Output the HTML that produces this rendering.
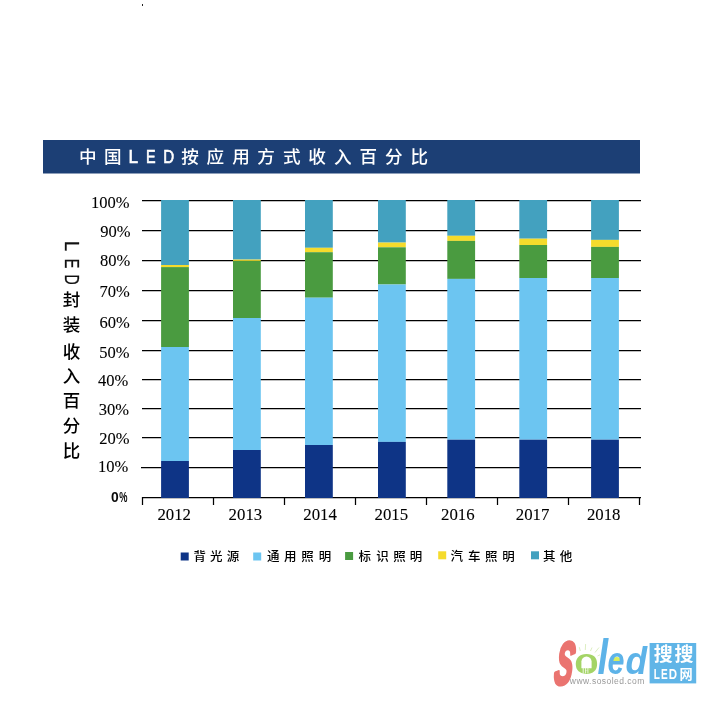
<!DOCTYPE html>
<html lang="zh-CN">
<head>
<meta charset="utf-8">
<title>中国LED按应用方式收入百分比</title>
<style>
html,body{margin:0;padding:0;background:#fff;}
body{width:709px;height:702px;overflow:hidden;position:relative;}
svg{display:block;position:absolute;left:0;top:0;}
.cjk{font-family:"Liberation Sans","Noto Sans CJK SC",sans-serif;}
.ser{font-family:"Liberation Serif",serif;}
.sans{font-family:"Liberation Sans",sans-serif;}
</style>
</head>
<body>
<svg width="709" height="702" viewBox="0 0 709 702">
<rect x="0" y="0" width="709" height="702" fill="#ffffff"/>
<rect x="142" y="4" width="1" height="2" fill="#222"/>

<rect x="43" y="140" width="597" height="33.5" fill="#1c3f75"/>
<g class="cjk" font-size="17.6" font-weight="500" fill="#ffffff" text-anchor="middle">
<text x="87.9" y="163.4">中</text>
<text x="112.7" y="163.4">国</text>
<text x="190.0" y="163.4">按</text>
<text x="215.4" y="163.4">应</text>
<text x="241.0" y="163.4">用</text>
<text x="266.0" y="163.4">方</text>
<text x="291.7" y="163.4">式</text>
<text x="317.1" y="163.4">收</text>
<text x="342.8" y="163.4">入</text>
<text x="368.4" y="163.4">百</text>
<text x="393.8" y="163.4">分</text>
<text x="419.3" y="163.4">比</text>
</g>
<g class="sans" font-size="18" fill="#ffffff" text-anchor="middle">
<text transform="translate(133.4 163.3) scale(0.96 1)" x="0" y="0" stroke="#fff" stroke-width="0.6">L</text>
<text transform="translate(150.9 163.3) scale(0.8 1)" x="0" y="0" stroke="#fff" stroke-width="0.6">E</text>
<text transform="translate(168.6 163.3) scale(0.84 1)" x="0" y="0" stroke="#fff" stroke-width="0.6">D</text>
</g>
<g stroke="#000" stroke-width="1.25" fill="none">
<line x1="142" y1="200.5" x2="641" y2="200.5"/>
<line x1="142" y1="230.5" x2="641" y2="230.5"/>
<line x1="142" y1="260.5" x2="641" y2="260.5"/>
<line x1="142" y1="290.5" x2="641" y2="290.5"/>
<line x1="142" y1="320.5" x2="641" y2="320.5"/>
<line x1="142" y1="350.5" x2="641" y2="350.5"/>
<line x1="142" y1="379.5" x2="641" y2="379.5"/>
<line x1="142" y1="408.5" x2="641" y2="408.5"/>
<line x1="142" y1="437.5" x2="641" y2="437.5"/>
<line x1="141" y1="467.5" x2="641" y2="467.5"/>
<line x1="142" y1="497.5" x2="641" y2="497.5"/>
<line x1="142.5" y1="497" x2="142.5" y2="505"/>
<line x1="213.5" y1="497" x2="213.5" y2="505"/>
<line x1="284.5" y1="497" x2="284.5" y2="505"/>
<line x1="355.5" y1="497" x2="355.5" y2="505"/>
<line x1="426.5" y1="497" x2="426.5" y2="505"/>
<line x1="497.5" y1="497" x2="497.5" y2="505"/>
<line x1="568.5" y1="497" x2="568.5" y2="505"/>
<line x1="639.5" y1="497" x2="639.5" y2="505"/>
</g>
<rect x="161.1" y="200" width="27.8" height="65.0" fill="#43a1bf"/>
<rect x="161.1" y="265.0" width="27.8" height="2.1" fill="#f5db2c"/>
<rect x="161.1" y="267.1" width="27.8" height="79.9" fill="#4a9b40"/>
<rect x="161.1" y="347.0" width="27.8" height="114.0" fill="#6cc5f1"/>
<rect x="161.1" y="461.0" width="27.8" height="37.0" fill="#0e3486"/>
<rect x="233.0" y="200" width="27.8" height="59.6" fill="#43a1bf"/>
<rect x="233.0" y="259.6" width="27.8" height="1.3" fill="#f5db2c"/>
<rect x="233.0" y="260.9" width="27.8" height="57.1" fill="#4a9b40"/>
<rect x="233.0" y="318.0" width="27.8" height="132.0" fill="#6cc5f1"/>
<rect x="233.0" y="450.0" width="27.8" height="48.0" fill="#0e3486"/>
<rect x="305.0" y="200" width="27.8" height="47.8" fill="#43a1bf"/>
<rect x="305.0" y="247.8" width="27.8" height="4.4" fill="#f5db2c"/>
<rect x="305.0" y="252.2" width="27.8" height="45.5" fill="#4a9b40"/>
<rect x="305.0" y="297.7" width="27.8" height="147.3" fill="#6cc5f1"/>
<rect x="305.0" y="445.0" width="27.8" height="53.0" fill="#0e3486"/>
<rect x="378.0" y="200" width="27.8" height="42.6" fill="#43a1bf"/>
<rect x="378.0" y="242.6" width="27.8" height="4.7" fill="#f5db2c"/>
<rect x="378.0" y="247.3" width="27.8" height="37.2" fill="#4a9b40"/>
<rect x="378.0" y="284.5" width="27.8" height="157.4" fill="#6cc5f1"/>
<rect x="378.0" y="441.9" width="27.8" height="56.1" fill="#0e3486"/>
<rect x="447.3" y="200" width="27.8" height="35.8" fill="#43a1bf"/>
<rect x="447.3" y="235.8" width="27.8" height="5.1" fill="#f5db2c"/>
<rect x="447.3" y="240.9" width="27.8" height="38.0" fill="#4a9b40"/>
<rect x="447.3" y="278.9" width="27.8" height="160.8" fill="#6cc5f1"/>
<rect x="447.3" y="439.7" width="27.8" height="58.3" fill="#0e3486"/>
<rect x="519.3" y="200" width="27.8" height="38.7" fill="#43a1bf"/>
<rect x="519.3" y="238.7" width="27.8" height="6.3" fill="#f5db2c"/>
<rect x="519.3" y="245.0" width="27.8" height="33.0" fill="#4a9b40"/>
<rect x="519.3" y="278.0" width="27.8" height="161.7" fill="#6cc5f1"/>
<rect x="519.3" y="439.7" width="27.8" height="58.3" fill="#0e3486"/>
<rect x="591.1" y="200" width="27.8" height="39.9" fill="#43a1bf"/>
<rect x="591.1" y="239.9" width="27.8" height="7.0" fill="#f5db2c"/>
<rect x="591.1" y="246.9" width="27.8" height="31.1" fill="#4a9b40"/>
<rect x="591.1" y="278.0" width="27.8" height="161.7" fill="#6cc5f1"/>
<rect x="591.1" y="439.7" width="27.8" height="58.3" fill="#0e3486"/>
<g class="ser" font-size="16.5" fill="#000" stroke="#000" stroke-width="0.1" text-anchor="end">
<text x="129.6" y="208.0">100%</text>
<text x="130.5" y="236.8">90%</text>
<text x="130.2" y="266.3">80%</text>
<text x="129.8" y="297.0">70%</text>
<text x="129.8" y="328.3">60%</text>
<text x="129.5" y="357.8">50%</text>
<text x="128.3" y="386.4">40%</text>
<text x="128.9" y="414.8">30%</text>
<text x="129.5" y="444.0">20%</text>
<text x="128.3" y="471.6">10%</text>
</g>
<text class="sans" font-size="15.4" font-weight="bold" fill="#0a0a0a" transform="translate(111.0 502.4) scale(0.9 1)" x="0" y="0">0</text>
<text class="sans" font-size="15.4" font-weight="bold" fill="#0a0a0a" transform="translate(119.2 502.4) scale(0.6 1)" x="0" y="0">%</text>
<g class="ser" font-size="16.8" fill="#000" stroke="#000" stroke-width="0.1" text-anchor="middle">
<text x="174.2" y="520.4">2012</text>
<text x="245.4" y="520.4">2013</text>
<text x="320.1" y="520.4">2014</text>
<text x="391.3" y="520.4">2015</text>
<text x="457.8" y="520.4">2016</text>
<text x="532.6" y="520.4">2017</text>
<text x="603.7" y="520.4">2018</text>
</g>
<g class="cjk" font-size="17.5" font-weight="500" fill="#000" text-anchor="middle">
<text x="71.5" y="306.1">封</text>
<text x="71.5" y="330.9">装</text>
<text x="71.5" y="357.5">收</text>
<text x="71.5" y="382.1">入</text>
<text x="71.5" y="407.2">百</text>
<text x="71.5" y="432.1">分</text>
<text x="71.5" y="457.2">比</text>
</g>
<g class="sans" font-size="19.6" fill="#111" text-anchor="middle">
<text transform="translate(64.8 246.1) rotate(90) scale(0.93 1)" x="0" y="0" stroke="#111" stroke-width="0.3">L</text>
<text transform="translate(64.8 263.5) rotate(90) scale(0.74 1)" x="0" y="0" stroke="#111" stroke-width="0.3">E</text>
<text transform="translate(64.8 279.7) rotate(90) scale(0.72 1)" x="0" y="0" stroke="#111" stroke-width="0.3">D</text>
</g>
<rect x="180.7" y="552.5" width="8" height="8" fill="#0e3486"/>
<rect x="253.2" y="552.5" width="8" height="8" fill="#6cc5f1"/>
<rect x="345.1" y="552.0" width="8" height="8" fill="#4a9b40"/>
<rect x="438.2" y="551.3" width="8" height="8" fill="#f5db2c"/>
<rect x="531.0" y="551.3" width="8" height="8" fill="#43a1bf"/>
<g class="cjk" font-size="12.5" font-weight="500" fill="#000" text-anchor="middle">
<text x="199.7" y="560.6">背</text>
<text x="216.3" y="560.6">光</text>
<text x="233.1" y="560.6">源</text>
<text x="273.2" y="560.6">通</text>
<text x="290.3" y="560.6">用</text>
<text x="307.6" y="560.6">照</text>
<text x="324.9" y="560.6">明</text>
<text x="364.8" y="560.6">标</text>
<text x="382.5" y="560.6">识</text>
<text x="399.5" y="560.6">照</text>
<text x="415.9" y="560.6">明</text>
<text x="456.8" y="560.6">汽</text>
<text x="474.3" y="560.6">车</text>
<text x="491.2" y="560.6">照</text>
<text x="508.4" y="560.6">明</text>
<text x="549.3" y="560.6">其</text>
<text x="566.1" y="560.6">他</text>
</g>
<g id="logo">
<rect x="649.6" y="643" width="46.6" height="40.4" fill="#60b5e7"/>
<g class="cjk" font-weight="bold" fill="#ffffff" text-anchor="middle">
<text x="663.2" y="661.0" font-size="19">搜</text>
<text x="684.1" y="661.0" font-size="19">搜</text>
<text x="686" y="678.8" font-size="13.2">网</text>
</g>
<g class="sans" font-weight="bold" font-size="14" fill="#ffffff">
<text transform="translate(653.7 679.4) scale(0.72 1)" x="0" y="0">L</text>
<text transform="translate(661.0 679.4) scale(0.72 1)" x="0" y="0">E</text>
<text transform="translate(668.8 679.4) scale(0.82 1)" x="0" y="0">D</text>
</g>
<g stroke="#cfe6a8" stroke-width="0.7" fill="none">
<line x1="575" y1="652.5" x2="573.5" y2="649.5"/>
<line x1="580.3" y1="651" x2="579.3" y2="647.2"/>
<line x1="585.3" y1="650" x2="585.6" y2="644"/>
<line x1="590.5" y1="651" x2="592" y2="647.5"/>
<line x1="595" y1="652.5" x2="599" y2="647.5"/>
<line x1="597.5" y1="656" x2="600" y2="654.8"/>
</g>
<text class="sans" font-weight="bold" font-style="italic" font-size="60" fill="#ea7470" stroke="#ea7470" stroke-width="3" stroke-linejoin="round" vector-effect="non-scaling-stroke" transform="translate(553.0 684.3) skewX(-8) scale(0.45 1)" x="0" y="0">S</text>
<text class="sans" font-weight="bold" font-size="37" fill="#a4d466" text-anchor="middle" transform="translate(586.4 673.6) scale(1.08 1)" x="0" y="0">o</text>
<ellipse cx="586.4" cy="663.8" rx="6.5" ry="6.5" fill="#a4d466"/>
<path d="M581.4 668.3 L581.4 661.6 A5.1 5.2 0 0 1 591.6 661.6 L591.6 668.3 Z" fill="#ffffff"/>
<g stroke="#ffffff" stroke-width="0.8"><line x1="583.2" y1="668" x2="583.2" y2="673.4"/><line x1="585.6" y1="668" x2="585.6" y2="673.4"/><line x1="587.9" y1="668" x2="587.9" y2="673.4"/></g>
<g class="sans" font-weight="bold" font-style="italic" fill="#5db3e8">
<text font-size="38" transform="translate(597.6 673.9) scale(1 1.3)" x="0" y="0">l</text>
<ellipse cx="616.6" cy="660.4" rx="4.2" ry="3.4" fill="#d9ee5c"/>
<text font-size="38" transform="translate(607.6 673.9) scale(0.8 1)" x="0" y="0">e</text>
<text font-size="38" transform="translate(625.6 673.9) scale(0.93 1)" x="0" y="0">d</text>
</g>
<text class="sans" font-size="8.5" fill="#999999" x="569.8" y="684.4" textLength="74.5" lengthAdjust="spacing">www.sosoled.com</text>
</g>

</svg>
</body>
</html>
